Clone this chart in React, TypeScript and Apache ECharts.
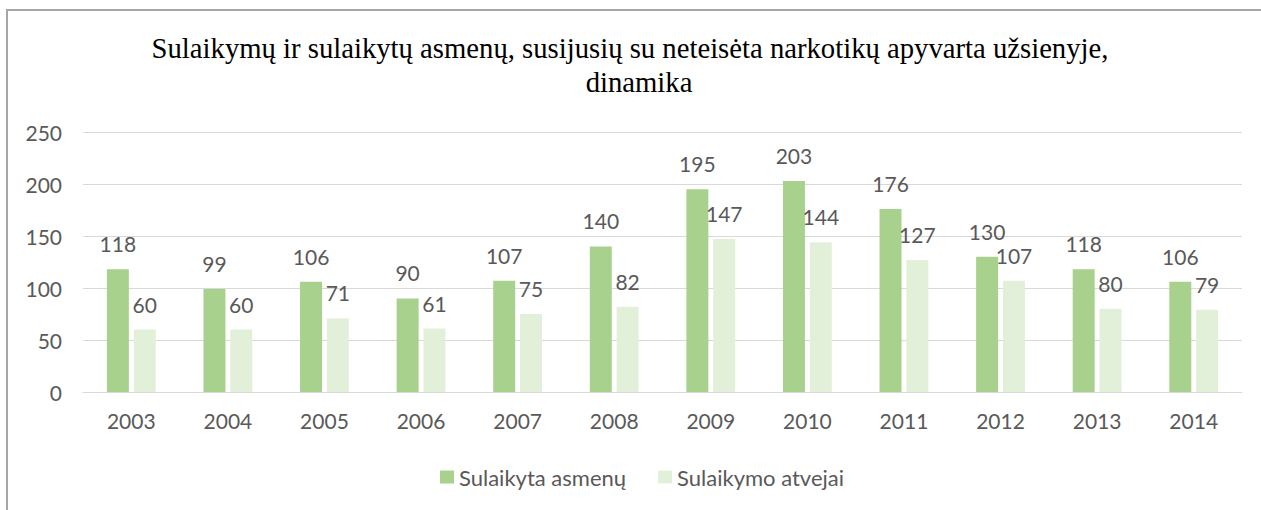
import React, { useEffect, useRef } from "react";
import * as echarts from "echarts";

const years = ["2003", "2004", "2005", "2006", "2007", "2008", "2009", "2010", "2011", "2012", "2013", "2014"];
const asmenu = [118, 99, 106, 90, 107, 140, 195, 203, 176, 130, 118, 106];
const atvejai = [60, 60, 71, 61, 75, 82, 147, 144, 127, 107, 80, 79];
const seriesNames = ["Sulaikyta asmenų", "Sulaikymo atvejai"];
const titleLine1 = "Sulaikymų ir sulaikytų asmenų, susijusių su neteisėta narkotikų apyvarta užsienyje,";
const titleLine2 = "dinamika";

const FONT = "Lato, 'Liberation Sans', sans-serif";
const SERIF = "'Liberation Serif', 'Times New Roman', serif";
const GRAY = "#595959";

export default function App() {
  const ref = useRef<HTMLDivElement>(null);
  useEffect(() => {
    const chart = echarts.init(ref.current!, null, { renderer: "svg" });
    const labelStyle = {
      show: true,
      position: "top" as const,
      distance: 15,
      fontFamily: FONT,
      fontSize: 21,
      color: GRAY,
    };
    const titleStyle = {
      fontFamily: SERIF,
      fontSize: 28.7,
      fontWeight: "normal" as const,
      color: "#000",
      lineHeight: 29,
    };
    chart.setOption({
      animation: false,
      backgroundColor: "#fff",
      title: [
        { text: titleLine1, left: 630, textAlign: "center", top: 33, padding: 0, textStyle: titleStyle },
        { text: titleLine2, left: 639, textAlign: "center", top: 67.5, padding: 0, textStyle: titleStyle },
      ],
      graphic: [
        {
          type: "rect",
          shape: { x: 7, y: 10, width: 1400, height: 700 },
          style: { fill: "none", stroke: "#A6A6A6", lineWidth: 2 },
          silent: true,
        },
      ],
      legend: {
        data: seriesNames,
        bottom: 17,
        left: 435,
        itemWidth: 14,
        itemHeight: 13,
        itemGap: 32,
        icon: "rect",
        textStyle: { fontFamily: FONT, fontSize: 22, color: GRAY },
      },
      grid: { left: 83, right: 19, top: 132, bottom: 118 },
      xAxis: {
        type: "category",
        data: years,
        axisLine: { lineStyle: { color: "#D9D9D9", width: 1 } },
        axisTick: { show: false },
        axisLabel: { fontFamily: FONT, fontSize: 21, color: GRAY, margin: 18 },
      },
      yAxis: {
        type: "value",
        min: 0,
        max: 250,
        interval: 50,
        axisLine: { show: false },
        axisTick: { show: false },
        splitLine: { lineStyle: { color: "#D9D9D9", width: 1 } },
        axisLabel: { fontFamily: FONT, fontSize: 21, color: GRAY, margin: 21 },
      },
      series: [
        {
          name: seriesNames[0],
          type: "bar",
          data: asmenu,
          barWidth: 22,
          barGap: "22%",
          itemStyle: { color: "#A9D18E" },
          label: labelStyle,
        },
        {
          name: seriesNames[1],
          type: "bar",
          data: atvejai,
          barWidth: 22,
          itemStyle: { color: "#E2F0D9" },
          label: labelStyle,
        },
      ],
    });
    return () => chart.dispose();
  }, []);
  return (
    <div
      ref={ref}
      style={{ position: "fixed", left: 0, top: 0, width: 1261, height: 510 }}
    />
  );
}
